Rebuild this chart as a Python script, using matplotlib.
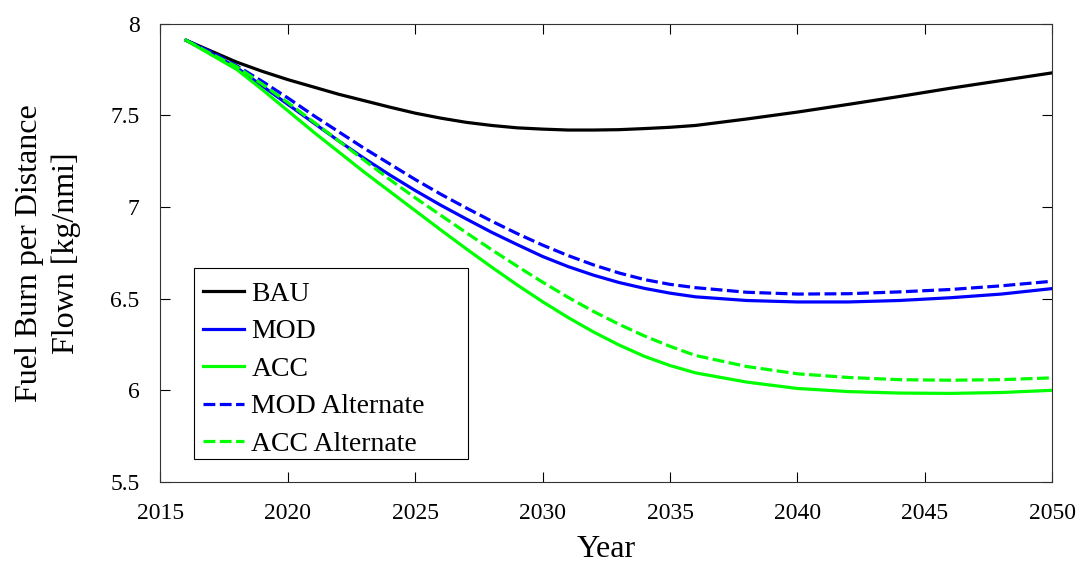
import matplotlib
matplotlib.use("Agg")
import matplotlib.pyplot as plt
from matplotlib.patches import Rectangle

years = [2016, 2017, 2018, 2019, 2020, 2021, 2022, 2023, 2024, 2025, 2026,
         2027, 2028, 2029, 2030, 2031, 2032, 2033, 2034, 2035, 2036,
         2038, 2040, 2042, 2044, 2046, 2048, 2050]

bau = [7.91, 7.85, 7.79, 7.74, 7.695, 7.655, 7.615, 7.58, 7.545, 7.512, 7.485,
       7.462, 7.445, 7.432, 7.425, 7.42, 7.42, 7.422, 7.428, 7.435, 7.445,
       7.48, 7.518, 7.56, 7.603, 7.648, 7.69, 7.732]

mod = [7.91, 7.84, 7.76, 7.66, 7.56, 7.46, 7.36, 7.265, 7.175, 7.09, 7.01,
       6.935, 6.862, 6.795, 6.73, 6.675, 6.628, 6.588, 6.556, 6.53, 6.51,
       6.49, 6.482, 6.482, 6.49, 6.505, 6.525, 6.555]

acc = [7.91, 7.83, 7.75, 7.64, 7.525, 7.41, 7.30, 7.19, 7.085, 6.98, 6.875,
       6.772, 6.672, 6.575, 6.483, 6.397, 6.318, 6.247, 6.185, 6.135, 6.095,
       6.045, 6.01, 5.993, 5.985, 5.983, 5.988, 6.0]

mod_alt = [7.91, 7.845, 7.77, 7.685, 7.595, 7.50, 7.41, 7.32, 7.235, 7.15, 7.07,
           6.995, 6.923, 6.855, 6.792, 6.735, 6.684, 6.64, 6.604, 6.578, 6.56,
           6.535, 6.525, 6.527, 6.537, 6.55, 6.57, 6.595]

acc_alt = [7.91, 7.835, 7.765, 7.67, 7.57, 7.465, 7.36, 7.255, 7.15, 7.05, 6.955,
           6.86, 6.767, 6.677, 6.59, 6.507, 6.43, 6.36, 6.296, 6.24, 6.19,
           6.13, 6.09, 6.07, 6.058, 6.055, 6.058, 6.068]

x_ticks = [2015, 2020, 2025, 2030, 2035, 2040, 2045, 2050]
y_ticks = [5.5, 6, 6.5, 7, 7.5, 8]
y_tick_labels = ["5.5", "6", "6.5", "7", "7.5", "8"]

plt.rcParams["font.family"] = ["Liberation Serif", "DejaVu Serif"]

fig = plt.figure(figsize=(10.77, 5.65), dpi=100)
ax = fig.add_axes([0.149, 0.147, 0.828, 0.811])

lw = 2.3
dash = (3.7, 1.4)
ax.plot(years, bau, color="black", lw=lw, label="BAU")
ax.plot(years, mod, color="#0000ff", lw=lw, label="MOD")
ax.plot(years, acc, color="#00ff00", lw=lw, label="ACC")
ax.plot(years, mod_alt, color="#0000ff", lw=lw, dashes=dash, label="MOD Alternate")
ax.plot(years, acc_alt, color="#00ff00", lw=lw, dashes=dash, label="ACC Alternate")

ax.set_xlim(2015, 2050)
ax.set_ylim(5.5, 8)
ax.set_xticks(x_ticks)
ax.set_yticks(y_ticks)
ax.set_yticklabels(y_tick_labels)
ax.tick_params(direction="in", length=7, width=0.8, labelsize=17,
               top=True, right=True, pad=15)
for s in ax.spines.values():
    s.set_linewidth(0.8)
    s.set_edgecolor("#333333")

ax.set_xlabel("Year", fontsize=23, labelpad=8)
ax.set_ylabel("Fuel Burn per Distance\nFlown [kg/nmi]", fontsize=23,
              labelpad=21, linespacing=1.35)

# Legend entries without their own frame; the box is drawn separately
leg = ax.legend(loc="lower left", bbox_to_anchor=(0.038, 0.037, 0.307, 0.1),
                mode="expand", fontsize=20, frameon=False,
                handlelength=1.5, handletextpad=0.25,
                borderpad=0.3, labelspacing=0.43, borderaxespad=0)
ax.add_patch(Rectangle((0.038, 0.05), 0.307, 0.417, transform=ax.transAxes,
                       facecolor="white", edgecolor="black", lw=0.8,
                       zorder=4.9))
leg.set_zorder(5)

fig.savefig("out.png", dpi=100)
